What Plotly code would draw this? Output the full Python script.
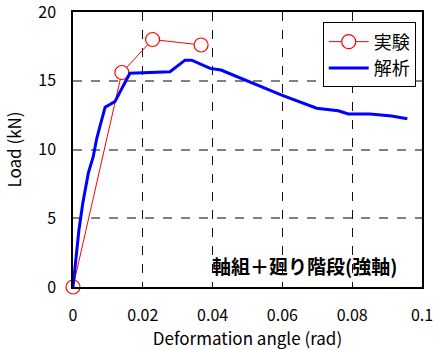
import plotly.graph_objects as go

# Experimental result (実験)
exp_angle = [0.0, 0.0140, 0.0228, 0.0367]
exp_load = [0.0, 15.6, 18.0, 17.6]

# Analysis result (解析)
ana_angle = [0.0, 0.0017, 0.0028, 0.0044, 0.0058, 0.0068, 0.0077, 0.0092, 0.0120,
             0.0140, 0.0152, 0.0163, 0.0278, 0.0321, 0.0340, 0.0393, 0.0424,
             0.0507, 0.0598, 0.0698, 0.0760, 0.0789, 0.0851, 0.0913, 0.0958]
ana_load = [0.0, 4.15, 6.09, 8.3, 9.48, 10.8, 11.66, 13.07, 13.48,
            14.45, 14.93, 15.54, 15.66, 16.5, 16.5, 15.9, 15.78,
            14.93, 13.96, 13.0, 12.82, 12.58, 12.58, 12.44, 12.24]

x_ticks = [0, 0.02, 0.04, 0.06, 0.08, 0.1]
x_labels = ["0", "0.02", "0.04", "0.06", "0.08", "0.1"]
y_ticks = [0, 5, 10, 15, 20]

FONT = "Noto Sans CJK JP"

fig = go.Figure()
fig.add_trace(go.Scatter(
    x=exp_angle, y=exp_load, name="実験", mode="lines+markers",
    line=dict(color="#ff0000", width=1),
    marker=dict(symbol="circle", size=14, color="white",
                line=dict(color="#ff0000", width=1.2)),
    cliponaxis=False,
))
fig.add_trace(go.Scatter(
    x=ana_angle, y=ana_load, name="解析", mode="lines",
    line=dict(color="#0000ff", width=3),
))

fig.add_annotation(
    x=0.0935, y=1.6, xref="x", yref="y", xanchor="right", yanchor="middle",
    text="<b>軸組＋廻り階段(強軸)</b>", showarrow=False,
    font=dict(family=FONT, size=19, color="black"),
)

axis_common = dict(
    showline=True, linecolor="black", linewidth=1.5, mirror=True,
    showgrid=True, griddash="dash",
    zeroline=False, ticks="", automargin=False, ticklabeloverflow="allow",
    tickfont=dict(family=FONT, size=16, color="black"),
)

fig.update_xaxes(
    range=[0, 0.1], tickvals=x_ticks, ticktext=x_labels,
    gridcolor="#111111", gridwidth=1.2,
    title=dict(text="Deformation angle (rad)", font=dict(family=FONT, size=17, color="black"),
               standoff=8),
    ticklabelstandoff=13,
    **axis_common,
)
fig.update_yaxes(
    range=[0, 20], tickvals=y_ticks,
    gridcolor="#808080", gridwidth=1.5,
    title=dict(text="Load (kN)", font=dict(family=FONT, size=17, color="black"),
               standoff=12),
    ticklabelstandoff=12,
    **axis_common,
)

fig.update_layout(
    width=434, height=350,
    margin=dict(l=73, r=12, t=12, b=63),
    paper_bgcolor="white", plot_bgcolor="white",
    font=dict(family=FONT, color="black"),
    showlegend=True,
    legend=dict(
        x=0.982, y=0.962, xanchor="right", yanchor="top",
        bgcolor="white", bordercolor="black", borderwidth=1,
        font=dict(family=FONT, size=18, color="black"),
        tracegroupgap=0, itemwidth=40,
    ),
)

fig.write_html("out.html")
